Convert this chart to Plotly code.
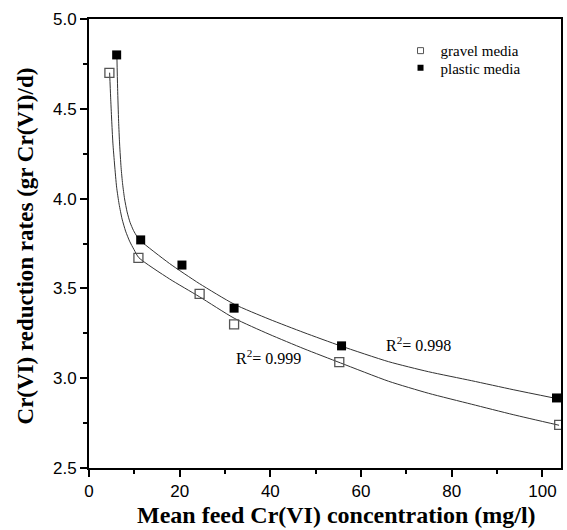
import plotly.graph_objects as go

# Measured data points
gravel_x = [4.5, 10.9, 24.4, 32.0, 55.2, 103.7]
gravel_y = [4.70, 3.67, 3.47, 3.30, 3.09, 2.74]
plastic_x = [6.1, 11.4, 20.5, 32.0, 55.7, 103.1]
plastic_y = [4.80, 3.77, 3.63, 3.39, 3.18, 2.89]

# Fitted curves
gravel_fit_x = [4.55, 4.77, 4.99, 5.27, 5.65, 6.09, 6.64, 7.30, 8.07, 8.95, 9.93, 10.99,
                17.74, 24.33, 32.02, 39.71, 47.41, 55.47, 66.07, 74.88, 84.40, 93.56, 103.67]
gravel_fit_y = [4.701, 4.565, 4.443, 4.309, 4.187, 4.064, 3.969, 3.886, 3.819, 3.763, 3.716, 3.671,
                3.553, 3.454, 3.334, 3.245, 3.164, 3.085, 2.983, 2.916, 2.855, 2.797, 2.738]
plastic_fit_x = [6.15, 6.31, 6.53, 6.75, 7.08, 7.41, 7.85, 8.40, 9.05, 9.82, 10.59, 11.36,
                 17.74, 24.33, 32.02, 39.71, 47.41, 55.47, 66.07, 74.88, 84.40, 93.56, 103.08]
plastic_fit_y = [4.799, 4.614, 4.431, 4.304, 4.172, 4.082, 3.998, 3.926, 3.868, 3.822, 3.789, 3.765,
                 3.639, 3.527, 3.412, 3.329, 3.254, 3.180, 3.092, 3.036, 2.986, 2.936, 2.887]

series_names = ["gravel media", "plastic media"]
r2_labels = ["R<sup>2</sup>= 0.999", "R<sup>2</sup>= 0.998"]

x_ticks = [0, 20, 40, 60, 80, 100]
y_ticks = [2.5, 3.0, 3.5, 4.0, 4.5, 5.0]

SERIF = "Liberation Serif, Times New Roman, serif"
SANS = "Liberation Sans, Arial, sans-serif"

fig = go.Figure()

fig.add_trace(go.Scatter(x=gravel_fit_x, y=gravel_fit_y, mode="lines",
                         line=dict(color="#333333", width=1, shape="spline", smoothing=0.6),
                         showlegend=False, hoverinfo="skip"))
fig.add_trace(go.Scatter(x=plastic_fit_x, y=plastic_fit_y, mode="lines",
                         line=dict(color="#333333", width=1, shape="spline", smoothing=0.6),
                         showlegend=False, hoverinfo="skip"))

fig.add_trace(go.Scatter(x=gravel_x, y=gravel_y, mode="markers", showlegend=False,
                         marker=dict(symbol="square-open", size=9, color="#555555",
                                     line=dict(width=1.3, color="#555555"))))
fig.add_trace(go.Scatter(x=plastic_x, y=plastic_y, mode="markers", showlegend=False,
                         marker=dict(symbol="square", size=9, color="black",
                                     line=dict(width=0))))

# legend entries
fig.add_trace(go.Scatter(x=[None], y=[None], mode="markers", name=series_names[0],
                         legend="legend",
                         marker=dict(symbol="square-open", size=6, color="#555555",
                                     line=dict(width=1, color="#555555"))))
fig.add_trace(go.Scatter(x=[None], y=[None], mode="markers", name=series_names[1],
                         legend="legend2",
                         marker=dict(symbol="square", size=6, color="black")))

axis_common = dict(
    showline=True, linecolor="black", linewidth=2, mirror=True,
    ticks="outside", ticklen=7, tickwidth=1.5, tickcolor="black",
    showgrid=False, zeroline=False,
    tickfont=dict(family=SANS, size=17, color="black"),
)

fig.update_xaxes(range=[0, 104.1], tickvals=x_ticks,
                 minor=dict(ticks="outside", ticklen=4, tickwidth=1.5, dtick=10, tick0=0,
                            tickcolor="black", showgrid=False),
                 **axis_common)
fig.update_yaxes(range=[2.5, 5.0], tickvals=y_ticks, tickformat=".1f",
                 minor=dict(ticks="outside", ticklen=4, tickwidth=1.5, dtick=0.25, tick0=2.5,
                            tickcolor="black", showgrid=False),
                 **axis_common)

legend_common = dict(font=dict(family=SERIF, size=15, color="black"),
                     bgcolor="rgba(0,0,0,0)", borderwidth=0,
                     xanchor="left", yanchor="middle", itemwidth=30)

fig.update_layout(
    width=567, height=530,
    margin=dict(l=89, r=4, t=19, b=62),
    plot_bgcolor="white", paper_bgcolor="white",
    legend=dict(x=0.66, y=0.929, **legend_common),
    legend2=dict(x=0.66, y=0.891, **legend_common),
    annotations=[
        dict(x=32.0, y=3.119, xref="x", yref="y", text=r2_labels[0], showarrow=False,
             xanchor="left", yanchor="middle", font=dict(family=SERIF, size=16, color="black")),
        dict(x=65.0, y=3.193, xref="x", yref="y", text=r2_labels[1], showarrow=False,
             xanchor="left", yanchor="middle", font=dict(family=SERIF, size=16, color="black")),
        dict(x=0.525, y=-0.105, xref="paper", yref="paper",
             text="<b>Mean feed Cr(VI) concentration (mg/l)</b>", showarrow=False,
             xanchor="center", yanchor="middle", font=dict(family=SERIF, size=24, color="black")),
        dict(x=-0.135, y=0.494, xref="paper", yref="paper",
             text="<b>Cr(VI) reduction rates (gr Cr(VI)/d)</b>", showarrow=False, textangle=-90,
             xanchor="center", yanchor="middle", font=dict(family=SERIF, size=23, color="black")),
    ],
)

fig.write_html("out.html")
